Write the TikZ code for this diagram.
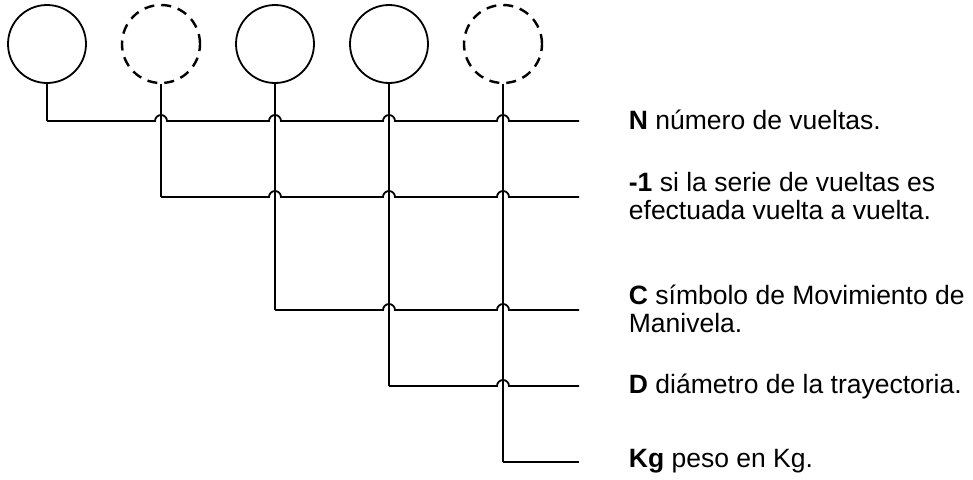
\documentclass[tikz,border=0pt]{standalone}
\usepackage{fontspec}
\setmainfont{Liberation Sans}
\begin{document}
\begin{tikzpicture}[x=1pt,y=-1pt,line width=1.8pt,
  campo/.style={circle,draw=black,minimum size=78pt,inner sep=0pt},
  opcional/.style={campo,dash pattern=on 10pt off 7pt,line width=2.4pt},
  texto/.style={anchor=west,inner sep=0pt,align=left,font=\fontsize{26.5}{28.5}\selectfont}]
\useasboundingbox (0,0) rectangle (973,479);
% casillas
\node (c1) at (47,44)[campo]{};
\node (c2) at (161,44)[opcional]{};
\node (c3) at (275,44)[campo]{};
\node (c4) at (389,44)[campo]{};
\node (c5) at (503,44)[opcional]{};

% esquinas y finales
\coordinate (k1) at (47,121);  \coordinate (e1) at (579,121);
\coordinate (k2) at (161,197); \coordinate (e2) at (579,197);
\coordinate (k3) at (275,310); \coordinate (e3) at (579,310);
\coordinate (k4) at (389,386); \coordinate (e4) at (579,386);
\coordinate (k5) at (503,462); \coordinate (e5) at (579,462);

\node (t1) at (628,120)[texto]{\textbf{N} número de vueltas.};
\node (t2) at (628,196)[texto]{\textbf{-1} si la serie de vueltas es\\efectuada vuelta a vuelta.};
\node (t3) at (628,309)[texto]{\textbf{C} símbolo de Movimiento de\\Manivela.};
\node (t4) at (628,386)[texto]{\textbf{D} diámetro de la trayectoria.};
\node (t5) at (628,461)[texto]{\textbf{Kg} peso en Kg.};

\draw (c1.south)--(k1);
\draw (c2.south)--(k2);
\draw (c3.south)--(k3);
\draw (c4.south)--(k4);
\draw (c5.south)--(k5);

\draw (k1)--(155,121) arc[start angle=180,end angle=360,radius=6]
  --(269,121) arc[start angle=180,end angle=360,radius=6]
  --(383,121) arc[start angle=180,end angle=360,radius=6]
  --(497,121) arc[start angle=180,end angle=360,radius=6]--(e1);
\draw (k2)--(269,197) arc[start angle=180,end angle=360,radius=6]
  --(383,197) arc[start angle=180,end angle=360,radius=6]
  --(497,197) arc[start angle=180,end angle=360,radius=6]--(e2);
\draw (k3)--(383,310) arc[start angle=180,end angle=360,radius=6]
  --(497,310) arc[start angle=180,end angle=360,radius=6]--(e3);
\draw (k4)--(497,386) arc[start angle=180,end angle=360,radius=6]--(e4);
\draw (k5)--(e5);
\end{tikzpicture}
\end{document}
